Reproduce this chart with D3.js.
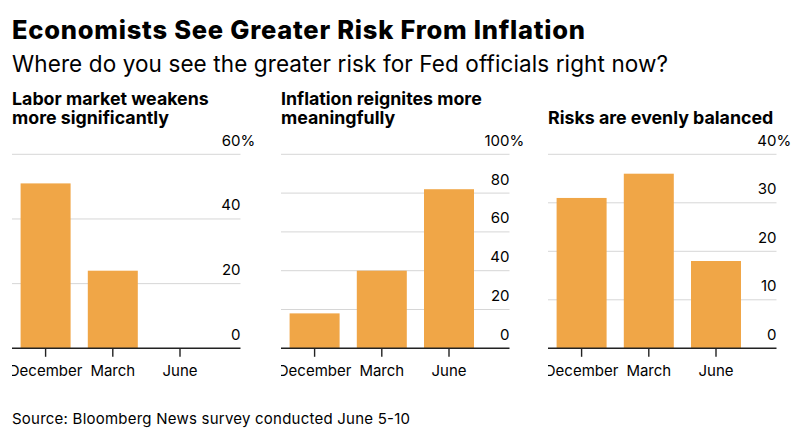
<!DOCTYPE html>
<html>
<head>
<meta charset="utf-8">
<script src="https://cdn.jsdelivr.net/npm/d3@7"></script>
<style>
  html, body { margin: 0; padding: 0; background: #fff; }
  svg { display: block; font-family: Inter, "Liberation Sans", Arial, sans-serif; }
</style>
</head>
<body>
<svg id="chart" width="800" height="444"></svg>
<script>
const categories = ["December", "March", "June"];
const laborValues = [51, 24, 0];
const inflationValues = [18, 40, 82];
const balancedValues = [31, 36, 18];
const laborTicks = [0, 20, 40, 60];
const inflationTicks = [0, 20, 40, 60, 80, 100];
const balancedTicks = [0, 10, 20, 30, 40];
const panelTitles = [
  ["Labor market weakens", "more significantly"],
  ["Inflation reignites more", "meaningfully"],
  ["Risks are evenly balanced"]
];
const title = "Economists See Greater Risk From Inflation";
const subtitle = "Where do you see the greater risk for Fed officials right now?";
const source = "Source: Bloomberg News survey conducted June 5-10";

const panels = [
  { values: laborValues, ticks: laborTicks, titleLines: panelTitles[0], left: 12 },
  { values: inflationValues, ticks: inflationTicks, titleLines: panelTitles[1], left: 281 },
  { values: balancedValues, ticks: balancedTicks, titleLines: panelTitles[2], left: 548 }
];

const svg = d3.select("#chart");
const barColor = "#F0A647";
const plotW = 228.5, yTop = 154.3, yBase = 348.3, bandW = 201.6;

svg.append("text").attr("x", 12).attr("y", 39)
  .attr("font-size", 25.5).attr("font-weight", 800).attr("fill", "#000")
  .attr("textLength", 573).attr("lengthAdjust", "spacing").text(title);
svg.append("text").attr("x", 12).attr("y", 71.5)
  .attr("font-size", 22.5).attr("fill", "#000")
  .attr("textLength", 656).attr("lengthAdjust", "spacing").text(subtitle);
svg.append("text").attr("x", 12).attr("y", 424.3)
  .attr("font-size", 15).attr("fill", "#000")
  .attr("textLength", 398).attr("lengthAdjust", "spacing").text(source);

const defs = svg.append("defs");

panels.forEach((p, i) => {
  const g = svg.append("g");
  const x = d3.scaleBand().domain(categories)
    .range([p.left, p.left + bandW]).paddingInner(0.256).paddingOuter(0.128);
  const y = d3.scaleLinear().domain([0, d3.max(p.ticks)]).range([yBase, yTop]);
  const maxT = d3.max(p.ticks);

  const n = p.titleLines.length;
  p.titleLines.forEach((line, k) => {
    g.append("text").attr("x", p.left).attr("y", 124.3 - (n - 1 - k) * 19.3)
      .attr("font-size", 17.8).attr("font-weight", "bold").attr("fill", "#000").text(line);
  });

  g.selectAll(".grid").data(p.ticks.filter(t => t > 0)).enter().append("line")
    .attr("x1", p.left).attr("x2", p.left + plotW)
    .attr("y1", d => y(d)).attr("y2", d => y(d))
    .attr("stroke", "#d6d6d6").attr("stroke-width", 1);

  const pctProbe = svg.append("text").attr("font-size", 15).text("%");
  const pctW = pctProbe.node().getComputedTextLength();
  pctProbe.remove();

  g.selectAll(".ylab").data(p.ticks).enter().append("text")
    .attr("x", d => p.left + plotW + (d === maxT ? pctW : 0))
    .attr("y", d => y(d) - 8.5)
    .attr("font-size", 15).attr("fill", "#000")
    .attr("text-anchor", "end")
    .text(d => d === maxT ? d + "%" : d);

  g.selectAll(".bar").data(categories.map((c, j) => ({ c, v: p.values[j] }))).enter().append("rect")
    .attr("x", d => x(d.c)).attr("width", x.bandwidth())
    .attr("y", d => y(d.v)).attr("height", d => yBase - y(d.v))
    .attr("fill", barColor);

  g.append("line").attr("x1", p.left).attr("x2", p.left + plotW)
    .attr("y1", yBase).attr("y2", yBase).attr("stroke", "#222").attr("stroke-width", 1.6);

  g.selectAll(".tick").data(categories).enter().append("line")
    .attr("x1", d => x(d) + x.bandwidth() / 2).attr("x2", d => x(d) + x.bandwidth() / 2)
    .attr("y1", yBase).attr("y2", yBase + 8.5).attr("stroke", "#222").attr("stroke-width", 1.4);

  const cid = "clip" + i;
  defs.append("clipPath").attr("id", cid).append("rect")
    .attr("x", p.left).attr("y", 355).attr("width", 260).attr("height", 40);
  g.append("g").attr("clip-path", `url(#${cid})`)
    .selectAll("text").data(categories).enter().append("text")
    .attr("x", d => x(d) + x.bandwidth() / 2).attr("y", 376)
    .attr("text-anchor", "middle").attr("font-size", 15).attr("fill", "#000").text(d => d);
});
</script>
</body>
</html>
